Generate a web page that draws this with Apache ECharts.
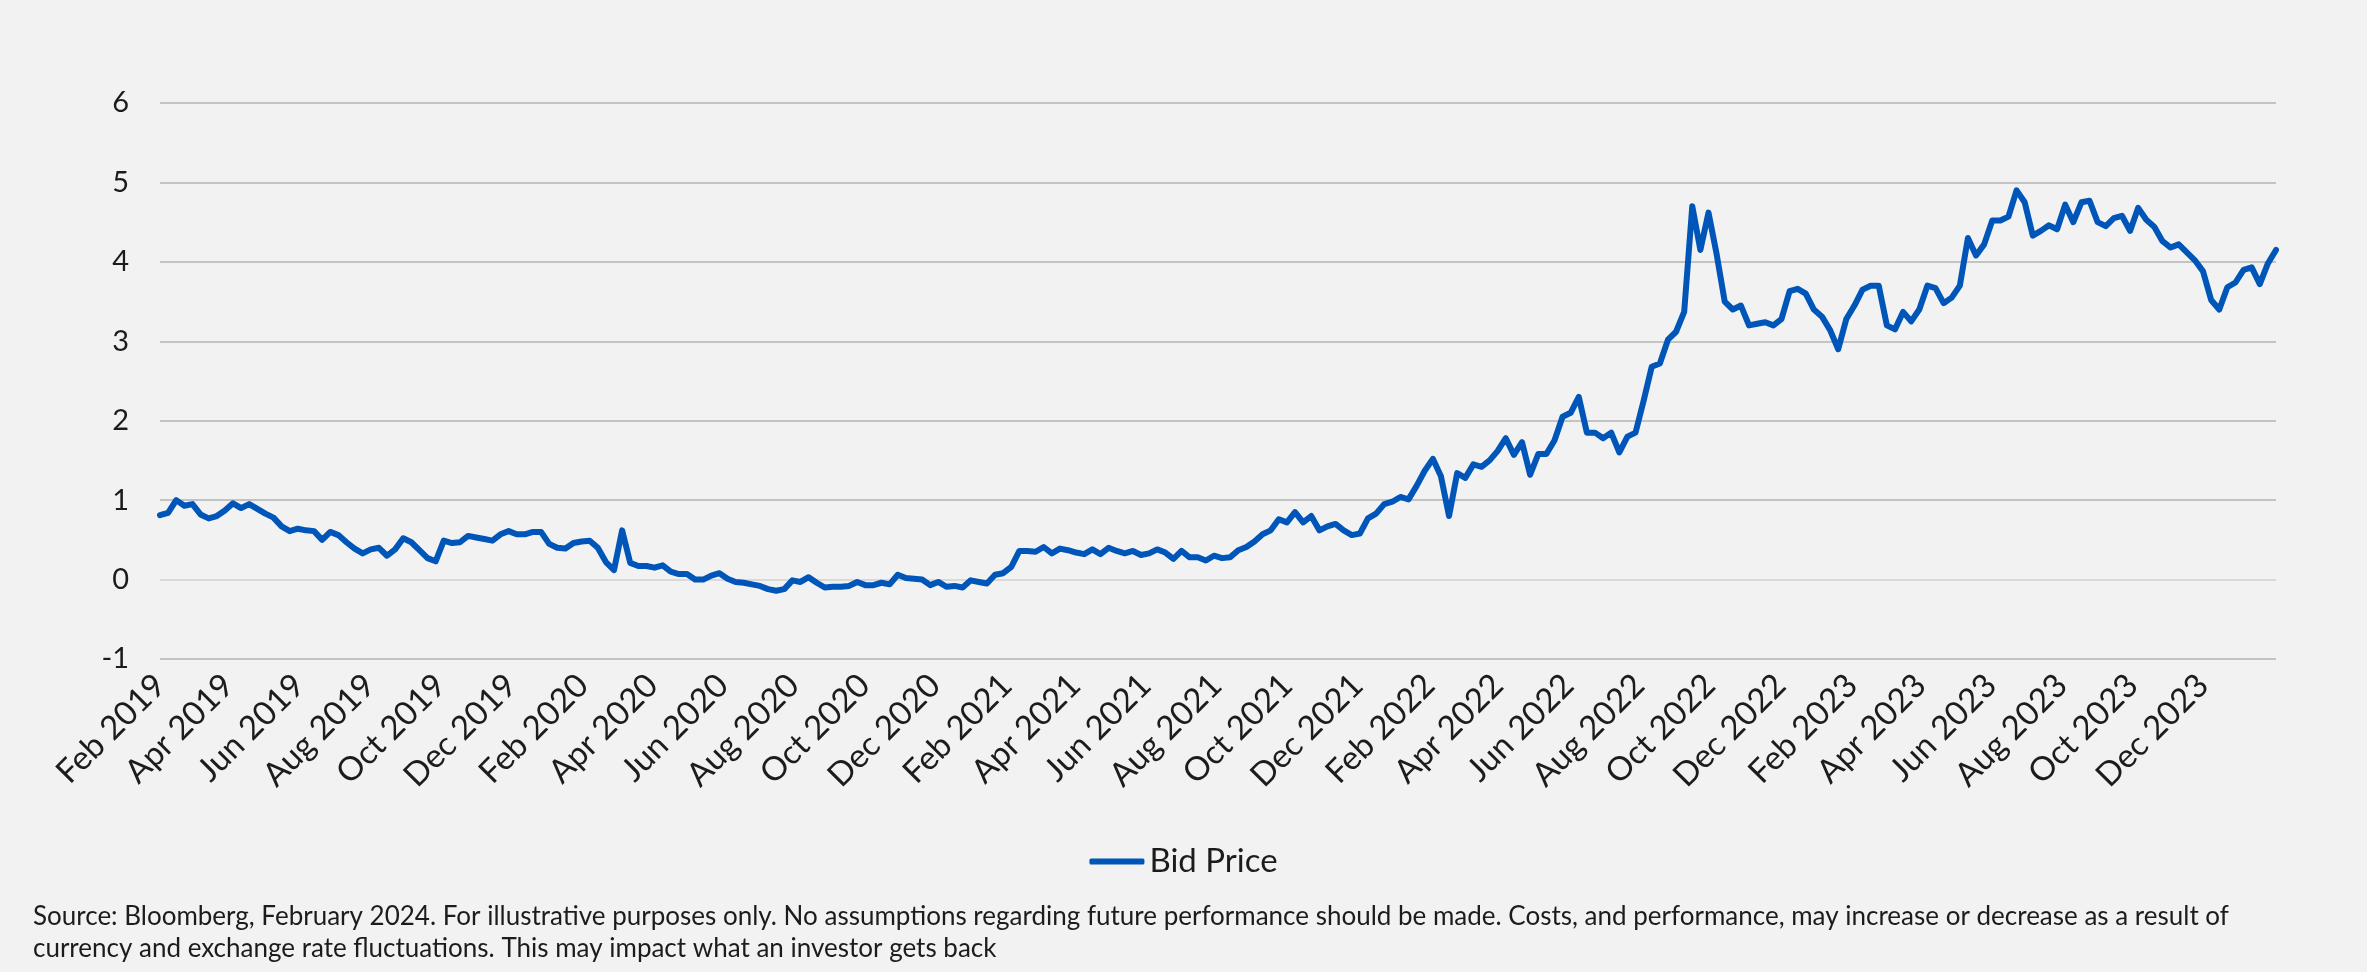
<!DOCTYPE html>
<html>
<head>
<meta charset="utf-8">
<title>Bid Price</title>
<script src="https://cdn.jsdelivr.net/npm/echarts@6/dist/echarts.min.js"></script>
<style>
  html, body { margin: 0; padding: 0; background: #f2f2f2; }
  #chart { width: 2367px; height: 972px; }
</style>
</head>
<body>
<div id="chart"></div>
<script>
// Weekly bid price readings (Fridays), starting on the first week below
const firstWeek = '2019-02-01';

const bidPrice2019 = [
  0.81, 0.84, 1.00, 0.93, 0.95, 0.82, 0.77, 0.80, 0.87, 0.96, 0.90, 0.95,
  0.89, 0.83, 0.78, 0.67, 0.61, 0.64, 0.62, 0.61, 0.50, 0.60, 0.56, 0.47,
  0.39, 0.33, 0.38, 0.40, 0.30, 0.38, 0.52, 0.47, 0.37, 0.27, 0.23, 0.49,
  0.46, 0.47, 0.55, 0.53, 0.51, 0.49, 0.57, 0.61, 0.57, 0.57, 0.60, 0.60
];
const bidPrice2020 = [
  0.45, 0.40, 0.39, 0.46, 0.48, 0.49, 0.40, 0.22, 0.12, 0.62, 0.21, 0.17,
  0.17, 0.15, 0.18, 0.10, 0.07, 0.07, 0.00, 0.00, 0.05, 0.08, 0.01, -0.03,
  -0.04, -0.06, -0.08, -0.12, -0.14, -0.12, -0.01, -0.03, 0.03, -0.04, -0.10, -0.09,
  -0.09, -0.08, -0.03, -0.07, -0.07, -0.04, -0.06, 0.06, 0.02, 0.01, 0.00, -0.07,
  -0.03, -0.09, -0.08, -0.10
];
const bidPrice2021 = [
  -0.01, -0.03, -0.05, 0.06, 0.08, 0.16, 0.36, 0.36, 0.35, 0.41, 0.33, 0.39,
  0.37, 0.34, 0.32, 0.38, 0.32, 0.40, 0.36, 0.33, 0.36, 0.31, 0.33, 0.38,
  0.34, 0.26, 0.36, 0.28, 0.28, 0.24, 0.30, 0.27, 0.28, 0.37, 0.41, 0.48,
  0.57, 0.62, 0.76, 0.72, 0.85, 0.72, 0.80, 0.62, 0.67, 0.70, 0.62, 0.56,
  0.58, 0.77, 0.83, 0.95, 0.98
];
const bidPrice2022 = [
  1.04, 1.01, 1.18, 1.37, 1.52, 1.30, 0.80, 1.34, 1.28, 1.45, 1.42, 1.50,
  1.62, 1.78, 1.57, 1.73, 1.32, 1.58, 1.58, 1.75, 2.05, 2.10, 2.30, 1.85,
  1.85, 1.78, 1.85, 1.60, 1.80, 1.85, 2.25, 2.68, 2.72, 3.02, 3.12, 3.37,
  4.70, 4.15, 4.62, 4.10, 3.50, 3.40, 3.45, 3.20, 3.22, 3.24, 3.20, 3.28,
  3.63, 3.66, 3.60, 3.40
];
const bidPrice2023 = [
  3.31, 3.14, 2.90, 3.28, 3.45, 3.65, 3.70, 3.70, 3.20, 3.15, 3.37, 3.25,
  3.40, 3.70, 3.67, 3.48, 3.55, 3.70, 4.30, 4.08, 4.22, 4.52, 4.52, 4.57,
  4.90, 4.75, 4.33, 4.39, 4.46, 4.41, 4.72, 4.50, 4.75, 4.77, 4.50, 4.45,
  4.55, 4.58, 4.39, 4.68, 4.53, 4.44, 4.26, 4.18, 4.22, 4.12, 4.02, 3.88,
  3.52, 3.40, 3.68, 3.74
];
const bidPrice2024 = [3.90, 3.93, 3.72, 3.98, 4.15];

// Axis labels every two months
const tickDates = [
  '2019-02-01', '2019-04-01', '2019-06-01', '2019-08-01', '2019-10-01', '2019-12-01',
  '2020-02-01', '2020-04-01', '2020-06-01', '2020-08-01', '2020-10-01', '2020-12-01',
  '2021-02-01', '2021-04-01', '2021-06-01', '2021-08-01', '2021-10-01', '2021-12-01',
  '2022-02-01', '2022-04-01', '2022-06-01', '2022-08-01', '2022-10-01', '2022-12-01',
  '2023-02-01', '2023-04-01', '2023-06-01', '2023-08-01', '2023-10-01', '2023-12-01'
];
const tickLabels = [
  'Feb 2019', 'Apr 2019', 'Jun 2019', 'Aug 2019', 'Oct 2019', 'Dec 2019',
  'Feb 2020', 'Apr 2020', 'Jun 2020', 'Aug 2020', 'Oct 2020', 'Dec 2020',
  'Feb 2021', 'Apr 2021', 'Jun 2021', 'Aug 2021', 'Oct 2021', 'Dec 2021',
  'Feb 2022', 'Apr 2022', 'Jun 2022', 'Aug 2022', 'Oct 2022', 'Dec 2022',
  'Feb 2023', 'Apr 2023', 'Jun 2023', 'Aug 2023', 'Oct 2023', 'Dec 2023'
];
const axisStart = '2019-02-01';
const axisEnd = '2024-02-02';

const footnoteLines = [
  'Source: Bloomberg, February 2024. For illustrative purposes only. No assumptions regarding future performance should be made. Costs, and performance, may increase or decrease as a result of',
  'currency and exchange rate fluctuations. This may impact what an investor gets back'
];

const DAY = 86400000;
// Whole days since the axis start, so the axis is linear in calendar days
function dayNumber(iso, addDays) {
  const [y, m, d] = iso.split('-').map(Number);
  const [y0, m0, d0] = axisStart.split('-').map(Number);
  return Math.round((Date.UTC(y, m - 1, d) - Date.UTC(y0, m0 - 1, d0)) / DAY) + (addDays || 0);
}

const bidPrice = [].concat(bidPrice2019, bidPrice2020, bidPrice2021,
                           bidPrice2022, bidPrice2023, bidPrice2024);
const seriesData = bidPrice.map((v, i) => [dayNumber(firstWeek, 7 * i), v]);
const tickDays = tickDates.map(d => dayNumber(d));

const FONT = 'Lato, "Open Sans", sans-serif';
const TEXT = '#1c1c1c';
const BLUE = '#0055b8';

const chart = echarts.init(document.getElementById('chart'), null, { renderer: 'canvas' });

chart.setOption({
  backgroundColor: '#f2f2f2',
  animation: false,
  textStyle: { fontFamily: FONT, color: TEXT },
  grid: { left: 160, right: 91, top: 103, bottom: 313, containLabel: false },
  xAxis: {
    type: 'value',
    min: 0,
    max: dayNumber(axisEnd),
    axisLine: { show: false },
    axisTick: { show: false },
    splitLine: { show: false },
    axisLabel: {
      customValues: tickDays,
      rotate: 45,
      margin: 21,
      fontSize: 33,
      fontFamily: FONT,
      color: TEXT,
      formatter: (value) => {
        const k = tickDays.indexOf(value);
        return k >= 0 ? tickLabels[k] : '';
      }
    }
  },
  yAxis: {
    type: 'value',
    min: -1,
    max: 6,
    interval: 1,
    axisLine: { show: false },
    axisTick: { show: false },
    axisLabel: { fontSize: 29, fontFamily: FONT, color: TEXT, margin: 31 },
    splitLine: {
      show: true,
      lineStyle: {
        width: 2,
        color: ['#c3c3c3', '#d9d9d9', '#c3c3c3', '#c3c3c3', '#c3c3c3', '#c3c3c3', '#c3c3c3', '#c3c3c3']
      }
    }
  },
  legend: {
    data: ['Bid Price'],
    left: 'center',
    top: 840,
    icon: 'roundRect',
    itemWidth: 55,
    itemHeight: 6,
    textStyle: { fontSize: 33, fontFamily: FONT, color: TEXT }
  },
  series: [{
    name: 'Bid Price',
    type: 'line',
    data: seriesData,
    showSymbol: false,
    symbol: 'none',
    color: BLUE,
    lineStyle: { width: 6, color: BLUE, cap: 'round', join: 'round' }
  }],
  graphic: footnoteLines.map((line, i) => ({
    type: 'text',
    left: 33,
    top: 904 + i * 32,
    style: { text: line, font: '26px ' + FONT, fill: TEXT }
  }))
});
</script>
</body>
</html>
